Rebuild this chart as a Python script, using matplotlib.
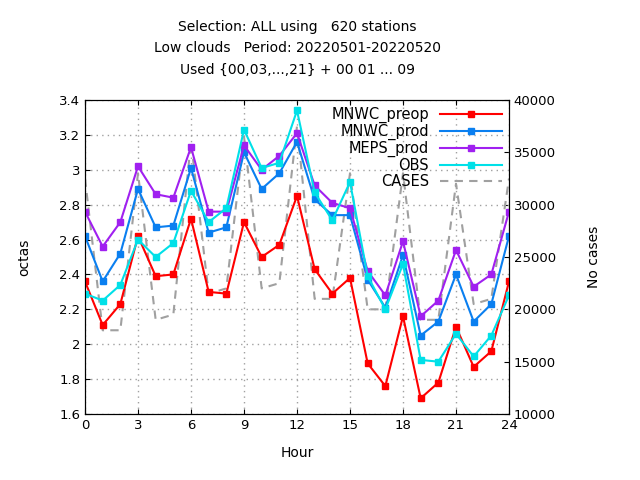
import matplotlib
matplotlib.use("Agg")
import matplotlib.pyplot as plt
from matplotlib.ticker import MultipleLocator

# data
hours = list(range(25))
mnwc_preop = [2.36, 2.11, 2.23, 2.62, 2.39, 2.40, 2.72, 2.30, 2.29, 2.70, 2.50, 2.57, 2.85,
              2.43, 2.29, 2.38, 1.89, 1.76, 2.16, 1.69, 1.78, 2.10, 1.87, 1.96, 2.36]
mnwc_prod = [2.62, 2.36, 2.52, 2.89, 2.67, 2.68, 3.01, 2.64, 2.67, 3.10, 2.89, 2.98, 3.16,
             2.83, 2.74, 2.74, 2.37, 2.21, 2.51, 2.05, 2.13, 2.40, 2.13, 2.23, 2.62]
meps_prod = [2.76, 2.56, 2.70, 3.02, 2.86, 2.84, 3.13, 2.76, 2.76, 3.14, 3.00, 3.08, 3.21,
             2.91, 2.81, 2.78, 2.42, 2.28, 2.59, 2.16, 2.25, 2.54, 2.33, 2.40, 2.76]
obs = [2.29, 2.25, 2.34, 2.60, 2.50, 2.58, 2.88, 2.70, 2.78, 3.23, 3.01, 3.04, 3.34,
       2.87, 2.71, 2.93, 2.39, 2.20, 2.46, 1.91, 1.90, 2.06, 1.93, 2.05, 2.28]
cases = [32500, 18000, 18000, 33000, 19000, 19500, 36000, 21500, 22000, 36500, 22000, 22500, 37500,
         21000, 21000, 33000, 20000, 20000, 33000, 19000, 19000, 32000, 20500, 21000, 32500]
title_lines = ["Selection: ALL using   620 stations",
               "Low clouds   Period: 20220501-20220520",
               "Used {00,03,...,21} + 00 01 ... 09"]

fig = plt.figure(figsize=(6.4, 4.8), dpi=100)
ax = fig.add_axes([85/640, 1-414/480, (509-85)/640, (414-100)/480])
ax2 = ax.twinx()
ax.set_zorder(ax2.get_zorder() + 1)
ax.patch.set_visible(False)

ax2.plot(hours, cases, color="#a0a0a0", ls=(0, (4, 3)), lw=1.5, label="CASES")
ax2.set_ylim(10000, 40000)
ax2.yaxis.set_major_locator(MultipleLocator(5000))
ax2.set_ylabel("No cases", fontsize=10, labelpad=22)

series = [("MNWC_preop", mnwc_preop, "#ff0000"),
          ("MNWC_prod", mnwc_prod, "#0a7ff0"),
          ("MEPS_prod", meps_prod, "#a020f0"),
          ("OBS", obs, "#00e0e8")]
lines = []
for name, vals, col in series:
    ln, = ax.plot(hours, vals, color=col, lw=1.5, marker="s", ms=4.5, label=name)
    lines.append(ln)
lines.append(ax2.get_lines()[0])

ax.set_xlim(0, 24)
ax.set_ylim(1.6, 3.4)
ax.xaxis.set_major_locator(MultipleLocator(3))
ax.yaxis.set_major_locator(MultipleLocator(0.2))
ax.yaxis.set_major_formatter(plt.FuncFormatter(lambda v, p: f"{v:g}"))
ax.grid(True, color="#a0a0a0", ls=(0, (1, 3)), lw=1)
for a in (ax, ax2):
    a.tick_params(direction="in", labelsize=9.5)
ax.tick_params(top=True)
ax.set_xlabel("Hour", fontsize=10, labelpad=10)
ax.set_ylabel("octas", fontsize=10, labelpad=20)

leg = ax.legend(handles=lines, loc="upper right", frameon=False, markerfirst=False,
                fontsize=10.5, handlelength=4.2, labelspacing=0.05, borderaxespad=0.1)
for t in leg.get_texts():
    t.set_ha("right")
leg._legend_box.align = "right"

for i, line in enumerate(title_lines):
    fig.text(297/640, 1-(27 + 21.5*i)/480, line, ha="center", va="center", fontsize=10)

fig.savefig("out.png", dpi=100)
